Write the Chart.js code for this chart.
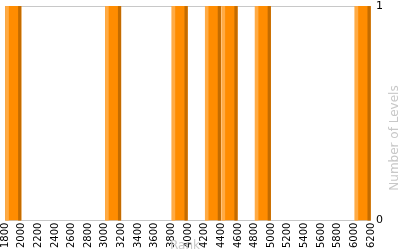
<!DOCTYPE html>
<html>
<head>
<meta charset="utf-8">
<script src="https://cdn.jsdelivr.net/npm/chart.js@4"></script>
<style>
  html, body { margin: 0; padding: 0; background: #fff; }
  #wrap { width: 400px; height: 250px; position: relative; }
</style>
</head>
<body>
<div id="wrap"><canvas id="rankChart"></canvas></div>
<script>
// histogram bins (start of each 200-wide rank bin) and level counts
const binStarts = [1800, 3000, 3800, 4200, 4400, 4800, 6000];
const levelCounts = [1, 1, 1, 1, 1, 1, 1];
const binWidth = 200;
const xTitle = 'Rank';
const yTitle = 'Number of Levels';

const barPoints = binStarts.map((b, i) => ({ x: b + binWidth / 2, y: levelCounts[i] }));

// frame around the plot, drawn under the bars
const framePlugin = {
    id: 'frame',
    beforeDatasetsDraw(chart) {
        const { ctx, chartArea: a } = chart;
        ctx.save();
        ctx.strokeStyle = '#c8c8c8';
        ctx.lineWidth = 1;
        ctx.strokeRect(Math.round(a.left) + 0.5, Math.round(a.top) + 0.5,
            Math.round(a.right - a.left) - 1, Math.round(a.bottom - a.top));
        ctx.restore();
    }
};

// light left edge and dark right edge on each bar
const shadePlugin = {
    id: 'shade',
    afterDatasetsDraw(chart) {
        const ctx = chart.ctx;
        chart.getDatasetMeta(0).data.forEach(bar => {
            const p = bar.getProps(['x', 'y', 'base', 'width'], true);
            const left = p.x - p.width / 2;
            const h = p.base - p.y;
            ctx.save();
            ctx.fillStyle = '#ffab45';
            ctx.fillRect(left, p.y, p.width * 0.22, h);
            ctx.fillStyle = '#c46c00';
            ctx.fillRect(left + p.width * 0.8, p.y, p.width * 0.2, h);
            ctx.restore();
        });
    }
};

// axis titles: "Rank" under the ticks, "Number of Levels" reading upwards on the right
const titlePlugin = {
    id: 'titles',
    afterDraw(chart) {
        const { ctx, chartArea: a } = chart;
        ctx.save();
        ctx.fillStyle = '#c8c8c8';
        ctx.font = '12px "DejaVu Sans"';
        ctx.textAlign = 'center';
        ctx.textBaseline = 'alphabetic';
        ctx.fillText(xTitle, (a.left + a.right) / 2 - 3, 249);
        ctx.translate(395, 138);
        ctx.rotate(-Math.PI / 2);
        ctx.textBaseline = 'middle';
        ctx.fillText(yTitle, 0, 0);
        ctx.restore();
    }
};

document.addEventListener('DOMContentLoaded', () => {
    const ctx = document.getElementById('rankChart').getContext('2d');
    new Chart(ctx, {
        type: 'bar',
        data: {
            datasets: [{
                data: barPoints,
                backgroundColor: '#ff8c00',
                borderWidth: 0,
                barPercentage: 0.96,
                categoryPercentage: 1
            }]
        },
        options: {
            responsive: true,
            maintainAspectRatio: false,
            animation: false,
            layout: { padding: { left: 5, top: 5, right: 12, bottom: 0 } },
            plugins: { legend: { display: false }, tooltip: { enabled: false } },
            scales: {
                x: {
                    type: 'linear',
                    min: 1800,
                    max: 6200,
                    offset: false,
                    grid: { display: false, drawTicks: false },
                    border: { display: false },
                    ticks: {
                        stepSize: 200,
                        autoSkip: false,
                        minRotation: 90,
                        maxRotation: 90,
                        padding: 2,
                        color: '#000',
                        font: { family: 'DejaVu Sans', size: 10 },
                        callback: v => String(v)
                    }
                },
                y: {
                    position: 'right',
                    min: 0,
                    max: 1,
                    grid: { display: false, drawTicks: false },
                    border: { display: false },
                    ticks: {
                        stepSize: 1,
                        padding: 5,
                        color: '#000',
                        font: { family: 'DejaVu Sans', size: 11, lineHeight: 0.2 }
                    }
                }
            }
        },
        plugins: [framePlugin, shadePlugin, titlePlugin]
    });
});
</script>
</body>
</html>
